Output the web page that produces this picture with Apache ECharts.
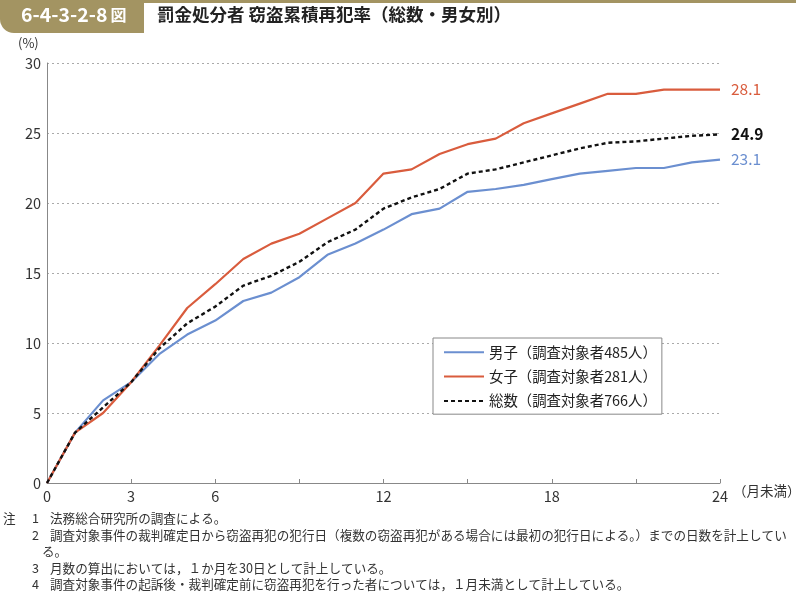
<!DOCTYPE html>
<html>
<head>
<meta charset="utf-8">
<script src="https://cdn.jsdelivr.net/npm/echarts@6/dist/echarts.min.js"></script>
<style>
html,body{margin:0;padding:0;background:#fff;}
#chart{width:796px;height:595px;}
</style>
</head>
<body>
<div id="chart"></div>
<script>
var months = [0,1,2,3,4,5,6,7,8,9,10,11,12,13,14,15,16,17,18,19,20,21,22,23,24];
var xLabelShown = [0,3,6,12,18,24];
var yTicks = [0,5,10,15,20,25,30];
var seriesNames = ['男子（調査対象者485人）','女子（調査対象者281人）','総数（調査対象者766人）'];
var male   = [0,3.6,5.9,7.2,9.2,10.6,11.6,13.0,13.6,14.7,16.3,17.1,18.1,19.2,19.6,20.8,21.0,21.3,21.7,22.1,22.3,22.5,22.5,22.9,23.1];
var female = [0,3.6,5.0,7.2,9.8,12.5,14.2,16.0,17.1,17.8,18.9,20.0,22.1,22.4,23.5,24.2,24.6,25.7,26.4,27.1,27.8,27.8,28.1,28.1,28.1];
var total  = [0,3.6,5.4,7.2,9.6,11.4,12.6,14.1,14.8,15.8,17.2,18.1,19.6,20.4,21.0,22.1,22.4,22.9,23.4,23.9,24.3,24.4,24.6,24.8,24.9];
var notes = [
  ['注','1','法務総合研究所の調査による。'],
  ['','2','調査対象事件の裁判確定日から窃盗再犯の犯行日（複数の窃盗再犯がある場合には最初の犯行日による。）までの日数を計上してい'],
  ['','','る。'],
  ['','3','月数の算出においては，１か月を30日として計上している。'],
  ['','4','調査対象事件の起訴後・裁判確定前に窃盗再犯を行った者については，１月未満として計上している。']
];

var FONT = '"Noto Sans CJK JP","Noto Sans",sans-serif';
var GOLD = '#a39462';
var BLUE = '#6b8fd0';
var RED = '#d95c3d';

function pairs(arr){ return months.map(function(m,i){ return [m, arr[i]]; }); }

var chart = echarts.init(document.getElementById('chart'));

var graphics = [
  {type:'rect', shape:{x:0,y:0,width:796,height:3}, style:{fill:GOLD}},
  {type:'rect', shape:{x:0,y:0,width:144,height:33,r:[0,0,0,14]}, style:{fill:GOLD}},
  {type:'text', left:21, top:5, style:{text:'{a|6-4-3-2-8}{b|図}', rich:{a:{fontSize:19.5,fontWeight:'bold',fill:'#fff',fontFamily:FONT},b:{fontSize:16,fontWeight:'bold',fill:'#fff',fontFamily:FONT,padding:[0,0,0,3]}}}},
  {type:'text', left:157, top:6, style:{text:'罰金処分者 窃盗累積再犯率（総数・男女別）', fontSize:17.5, fontWeight:'bold', fill:'#222', fontFamily:FONT}},
  {type:'text', left:18, top:37, style:{text:'(%)', fontSize:13, fill:'#333', fontFamily:FONT}},
  {type:'text', left:733, top:484, style:{text:'（月未満）', fontSize:13.5, fill:'#333', fontFamily:FONT}}
];
var ny = [521,538,554,571,587];
notes.forEach(function(n,i){
  if(n[0]) graphics.push({type:'text', left:3, top:ny[i]-9, style:{text:n[0], fontSize:12.6, fill:'#333', fontFamily:FONT}});
  if(n[1]) graphics.push({type:'text', left:32, top:ny[i]-9, style:{text:n[1], fontSize:12.6, fill:'#333', fontFamily:FONT}});
  graphics.push({type:'text', left:(n[1]?50:42), top:ny[i]-9, style:{text:n[2], fontSize:12.6, fill:'#333', fontFamily:FONT}});
});

function endLab(color, bold){
  return {show:true, distance:11, color:color, fontSize:15.5, fontWeight:bold?'bold':'normal', fontFamily:FONT,
    formatter:function(p){ return p.value[1].toFixed(1); }};
}

chart.setOption({
  animation:false,
  textStyle:{fontFamily:FONT},
  grid:{left:47, right:76, top:63, bottom:112, containLabel:false},
  xAxis:{
    type:'value', min:0, max:24, interval:3,
    axisLine:{show:true, lineStyle:{color:'#888', width:1}},
    axisTick:{show:true, inside:true, length:4, lineStyle:{color:'#888'}},
    axisLabel:{color:'#333', fontSize:14.5, margin:6, formatter:function(v){ return xLabelShown.indexOf(v)>=0 ? String(v) : ''; }},
    splitLine:{show:false}
  },
  yAxis:{
    type:'value', min:yTicks[0], max:yTicks[yTicks.length-1], interval:5,
    axisLine:{show:true, lineStyle:{color:'#888', width:1}},
    axisTick:{show:false},
    axisLabel:{color:'#333', fontSize:14.5, margin:6},
    splitLine:{show:true, lineStyle:{color:'#aaa', type:[2,3], width:1}}
  },
  legend:{
    orient:'vertical', left:433, top:338,
    data:seriesNames,
    backgroundColor:'#fff', borderColor:'#888', borderWidth:1,
    padding:[7,5,6,10], itemGap:10, itemWidth:40, itemHeight:10,
    itemStyle:{opacity:0},
    textStyle:{fontSize:14.4, color:'#222', fontFamily:FONT}
  },
  series:[
    {name:seriesNames[0], type:'line', data:pairs(male), symbol:'none', lineStyle:{color:BLUE, width:2.2}, itemStyle:{color:BLUE}, endLabel:endLab(BLUE,false), z:2},
    {name:seriesNames[1], type:'line', data:pairs(female), symbol:'none', lineStyle:{color:RED, width:2.2}, itemStyle:{color:RED}, endLabel:endLab(RED,false), z:3},
    {name:seriesNames[2], type:'line', data:pairs(total), symbol:'none', lineStyle:{color:'#111', width:2.4, type:[4,3]}, itemStyle:{color:'#111'}, endLabel:endLab('#111',true), z:4}
  ],
  graphic:graphics
});
</script>
</body>
</html>
